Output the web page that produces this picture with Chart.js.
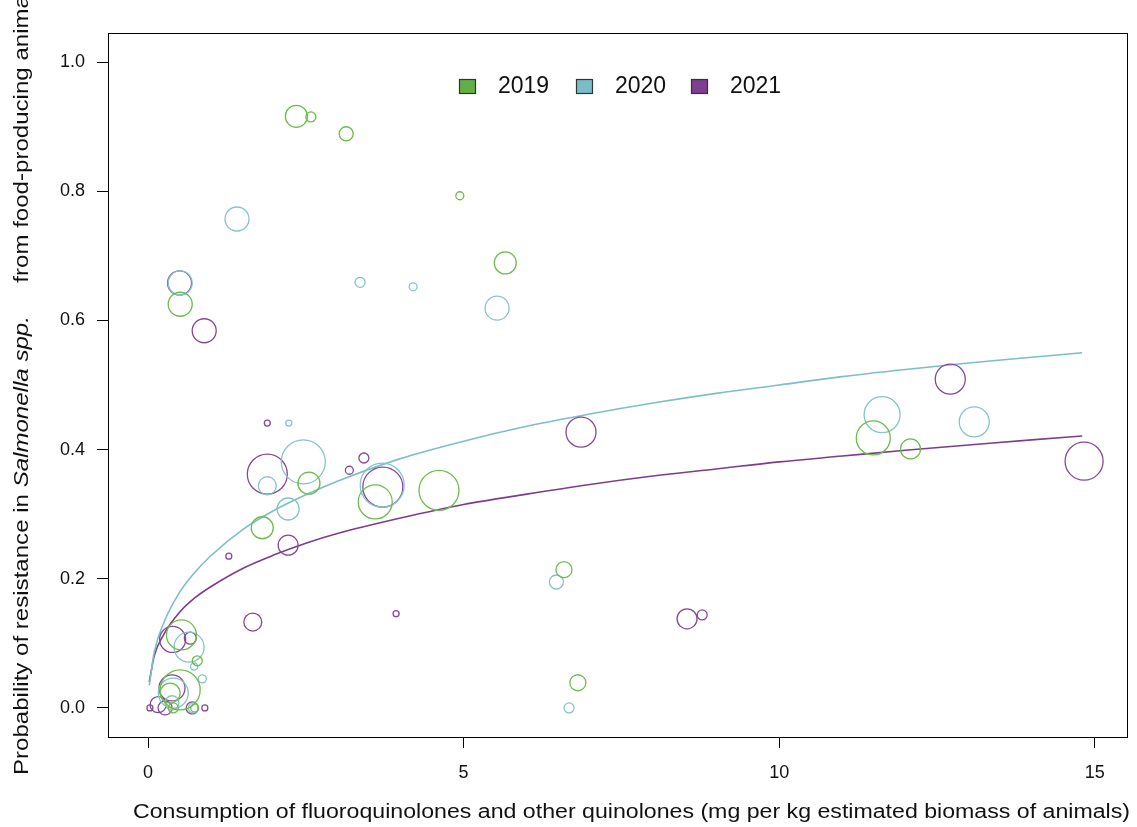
<!DOCTYPE html>
<html>
<head>
<meta charset="utf-8">
<script src="https://cdn.jsdelivr.net/npm/chart.js@4/dist/chart.umd.min.js"></script>
<style>
  html, body { margin: 0; padding: 0; background: #fff; }
  canvas { display: block; }
</style>
</head>
<body>
<canvas id="chart" width="1137" height="827"></canvas>
<script>
// values
const years = ['2019', '2020', '2021'];

// consumption (x), probability of resistance (y), relative bubble weight (w)
const x2019 = [2.35, 2.58, 3.14, 4.94, 5.66, 0.51, 1.81, 2.55, 3.60, 4.61, 6.59, 6.81, 11.49, 12.08, 0.53, 0.78, 0.51, 0.35, 0.40, 0.74];
const y2019 = [0.916, 0.915, 0.889, 0.793, 0.689, 0.625, 0.279, 0.348, 0.319, 0.337, 0.214, 0.039, 0.418, 0.401, 0.113, 0.073, 0.028, 0.023, 0.0, 0.0];
const w2019 = [0.55, 0.25, 0.35, 0.2, 0.55, 0.6, 0.55, 0.55, 0.85, 1.0, 0.4, 0.4, 0.85, 0.5, 0.75, 0.25, 1.0, 0.5, 0.25, 0.2];

const x2020 = [1.41, 3.36, 4.20, 5.53, 0.51, 2.23, 2.46, 1.89, 2.22, 3.71, 6.47, 6.67, 11.63, 13.09, 0.65, 0.73, 0.86, 0.40, 0.38, 0.72];
const y2020 = [0.757, 0.659, 0.652, 0.619, 0.658, 0.441, 0.381, 0.344, 0.308, 0.345, 0.195, 0.0, 0.454, 0.443, 0.094, 0.064, 0.045, 0.023, 0.008, 0.0];
const w2020 = [0.6, 0.25, 0.2, 0.6, 0.6, 0.15, 1.1, 0.45, 0.55, 1.1, 0.35, 0.25, 0.9, 0.75, 0.75, 0.18, 0.2, 0.75, 0.35, 0.25];

const x2021 = [0.50, 0.89, 1.89, 1.89, 3.19, 3.42, 3.72, 2.22, 1.28, 1.66, 3.93, 6.86, 8.54, 8.78, 12.71, 14.83, 0.39, 0.67, 0.38, 0.16, 0.03, 0.27, 0.70, 0.90];
const y2021 = [0.658, 0.584, 0.362, 0.441, 0.368, 0.387, 0.342, 0.252, 0.235, 0.133, 0.146, 0.427, 0.138, 0.144, 0.509, 0.382, 0.106, 0.108, 0.031, 0.005, 0.0, 0.0, 0.0, 0.0];
const w2021 = [0.6, 0.6, 1.0, 0.15, 0.2, 0.25, 1.0, 0.5, 0.15, 0.45, 0.15, 0.75, 0.5, 0.25, 0.75, 0.95, 0.65, 0.3, 0.65, 0.4, 0.15, 0.35, 0.3, 0.15];

// fitted curves
const curveX = [0.02, 0.1, 0.25, 0.5, 0.75, 1, 1.5, 2, 2.5, 3, 4, 5, 6, 7, 8, 9, 10, 11, 12, 13, 14, 14.8];
const curve2020 = [0.035, 0.087, 0.132, 0.179, 0.211, 0.236, 0.276, 0.306, 0.330, 0.351, 0.386, 0.413, 0.436, 0.455, 0.472, 0.487, 0.500, 0.513, 0.524, 0.534, 0.543, 0.550];
const curve2021 = [0.040, 0.081, 0.114, 0.148, 0.171, 0.188, 0.216, 0.237, 0.255, 0.270, 0.294, 0.315, 0.331, 0.346, 0.359, 0.370, 0.381, 0.390, 0.399, 0.407, 0.415, 0.421];

const xTicks = [0, 5, 10, 15];
const yTicks = [0, 0.2, 0.4, 0.6, 0.8, 1.0];

const ringColors = ['#6dbd4b', '#85c4cc', '#86489a'];
const fillColors = ['#62b045', '#7bbdc6', '#7e3f8e'];
const lineColors = { '2020': '#7bbfc8', '2021': '#7d3c8e' };
const FONT = '"Liberation Sans", Arial, sans-serif';

function bubbles(xs, ys, ws) {
  return xs.map((x, i) => ({ x: x, y: ys[i], r: ws[i] * 20 }));
}
function curve(ys) {
  return curveX.map((x, i) => ({ x: x, y: ys[i] }));
}

const boxAndText = {
  id: 'boxAndText',
  afterDraw(chart) {
    const ctx = chart.ctx;
    const a = chart.chartArea;
    ctx.save();
    ctx.strokeStyle = '#000';
    ctx.lineWidth = 1;
    ctx.strokeRect(a.left + 0.5, a.top + 0.5, a.right - a.left, a.bottom - a.top);

    // legend inside plot
    ctx.font = '23px ' + FONT;
    ctx.textBaseline = 'middle';
    const legX = [459, 576, 691];
    years.forEach((yr, i) => {
      ctx.fillStyle = fillColors[i];
      ctx.fillRect(legX[i], 79, 16, 14);
      ctx.strokeStyle = '#333';
      ctx.lineWidth = 1.2;
      ctx.strokeRect(legX[i] + 0.5, 79.5, 16, 14);
      ctx.fillStyle = '#111';
      ctx.fillText(yr, legX[i] + 39, 87);
    });

    // x title
    ctx.font = '20px ' + FONT;
    ctx.fillStyle = '#111';
    ctx.textBaseline = 'alphabetic';
    const xt = 'Consumption of fluoroquinolones and other quinolones (mg per kg estimated biomass of animals)';
    const sx = 997 / ctx.measureText(xt).width;
    ctx.save();
    ctx.translate(133, 818);
    ctx.scale(sx, 1);
    ctx.fillText(xt, 0, 0);
    ctx.restore();

    // y title, rotated, with italic genus name
    ctx.save();
    ctx.translate(28, 775);
    ctx.rotate(-Math.PI / 2);
    ctx.scale(sx * 1.04, 1.04);
    const parts = [
      ['Probability of resistance in ', false],
      ['Salmonella spp.', true],
      ['     from food-producing animals', false]
    ];
    let pos = 0;
    parts.forEach(p => {
      ctx.font = (p[1] ? 'italic ' : '') + '20px ' + FONT;
      ctx.fillText(p[0], pos, 0);
      pos += ctx.measureText(p[0]).width;
    });
    ctx.restore();
    ctx.restore();
  }
};

const tickGrid = { drawOnChartArea: false, drawTicks: true, tickLength: 11, color: '#000', lineWidth: 1 };

new Chart(document.getElementById('chart'), {
  type: 'bubble',
  data: {
    datasets: [
      { label: '2019', data: bubbles(x2019, y2019, w2019), borderColor: ringColors[0], backgroundColor: 'rgba(0,0,0,0)', borderWidth: 1.3 },
      { label: '2020', data: bubbles(x2020, y2020, w2020), borderColor: ringColors[1], backgroundColor: 'rgba(0,0,0,0)', borderWidth: 1.3 },
      { label: '2021', data: bubbles(x2021, y2021, w2021), borderColor: ringColors[2], backgroundColor: 'rgba(0,0,0,0)', borderWidth: 1.3 },
      { type: 'line', label: 'fit 2020', data: curve(curve2020), borderColor: lineColors['2020'], borderWidth: 1.6, pointRadius: 0, fill: false, cubicInterpolationMode: 'monotone' },
      { type: 'line', label: 'fit 2021', data: curve(curve2021), borderColor: lineColors['2021'], borderWidth: 1.6, pointRadius: 0, fill: false, cubicInterpolationMode: 'monotone' }
    ]
  },
  options: {
    responsive: false,
    animation: false,
    events: [],
    layout: { autoPadding: false, padding: { left: 0, top: 33, right: 10, bottom: 0 } },
    plugins: { legend: { display: false }, tooltip: { enabled: false } },
    scales: {
      x: {
        type: 'linear',
        min: -0.634,
        max: 15.51,
        afterBuildTicks: s => { s.ticks = xTicks.map(v => ({ value: v })); },
        afterFit: s => { s.height = 90; s.paddingLeft = 0; s.paddingRight = 0; },
        grid: tickGrid,
        border: { display: false },
        ticks: { color: '#111', font: { family: FONT, size: 18 }, padding: 14, callback: v => String(v) }
      },
      y: {
        type: 'linear',
        min: -0.045,
        max: 1.045,
        afterBuildTicks: s => { s.ticks = yTicks.map(v => ({ value: v })); },
        afterFit: s => { s.width = 108; s.paddingTop = 0; s.paddingBottom = 0; },
        grid: tickGrid,
        border: { display: false },
        ticks: { color: '#111', font: { family: FONT, size: 18 }, padding: 12, callback: v => v.toFixed(1) }
      }
    }
  },
  plugins: [boxAndText]
});
</script>
</body>
</html>
